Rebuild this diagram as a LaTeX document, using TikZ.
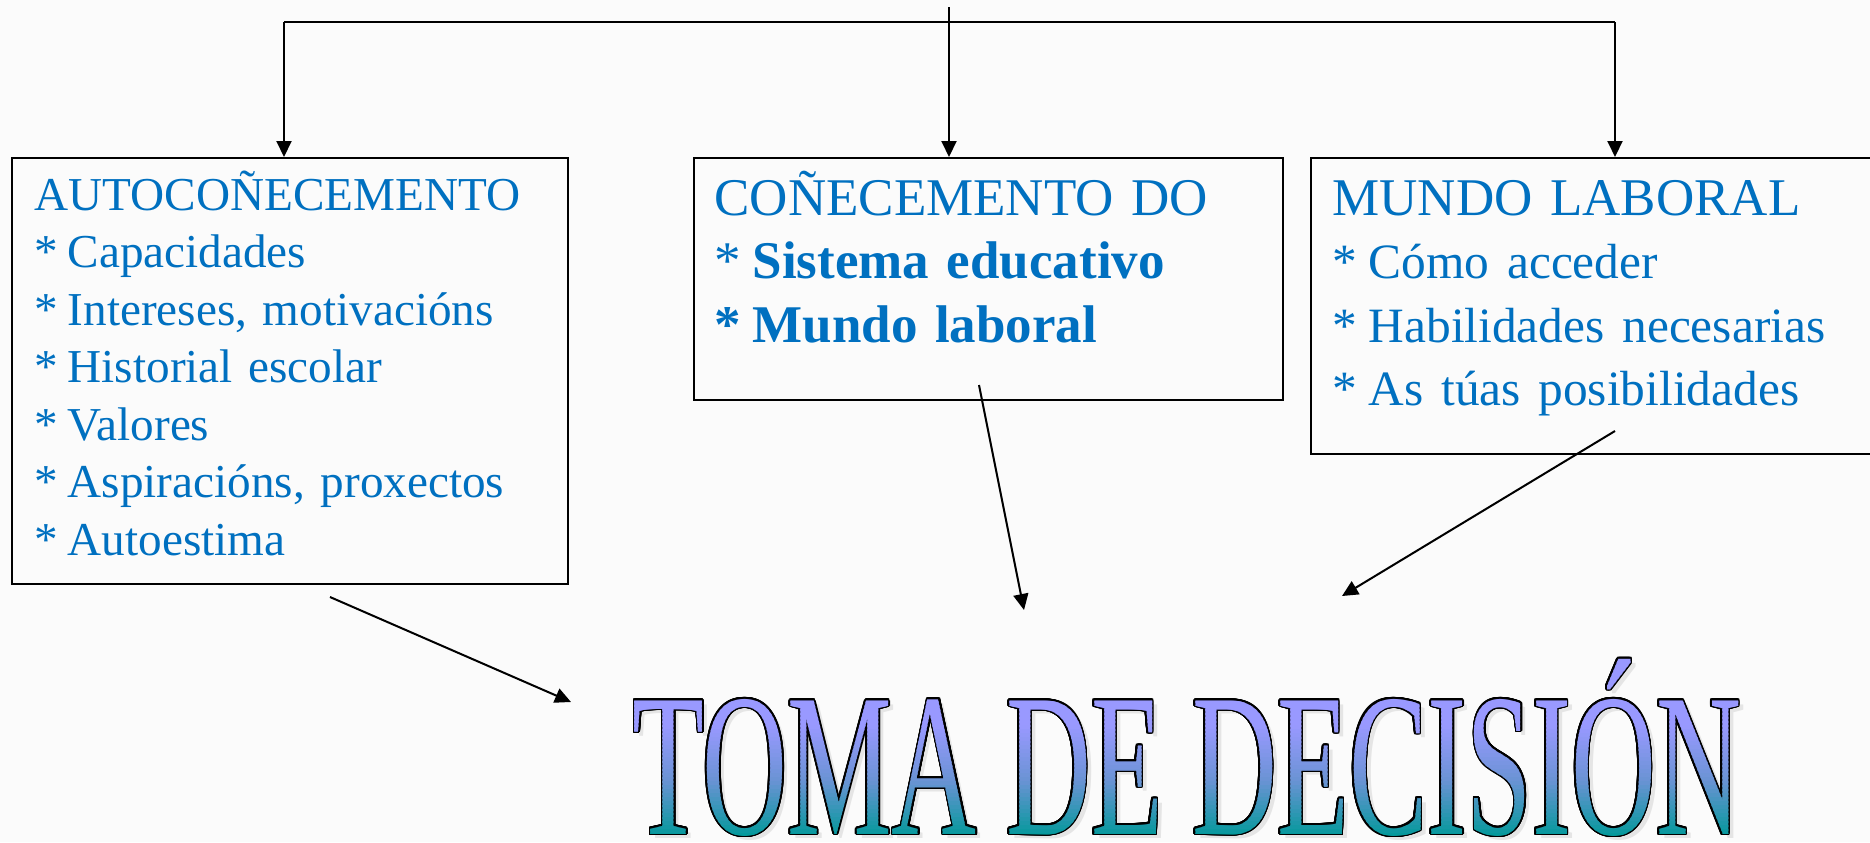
\documentclass[tikz,border=0pt]{standalone}
\usepackage{fontspec}
\setmainfont{Liberation Serif}
\newfontfamily\wordart{Liberation Serif}
\usepackage{graphicx}
\usepackage{contour}
\contourlength{0.8pt}
\contournumber{24}
\usetikzlibrary{arrows.meta,positioning,calc}
\definecolor{textblue}{HTML}{0070C0}
\definecolor{tomatop}{HTML}{9999FF}
\definecolor{tomamid}{HTML}{6A93D4}
\definecolor{tomabot}{HTML}{009999}
\definecolor{paper}{HTML}{FBFBFB}
\newlength{\pu}
\setlength{\pu}{0.5pt}
\newcommand{\tomatext}{\scalebox{5.88}[10.2]{\wordart\fontsize{10pt}{12pt}\selectfont TOMA DE DECISIÓN}}
\newcommand{\itm}{*\kern-3pt\ }

\begin{document}
\begin{tikzpicture}
    [   > = {Triangle[length=8pt,width=7.5pt]},
        line/.style = {line width=1pt},
        box/.style = {draw, line width=1pt, anchor=north west, inner sep=0},
        list/.style = {text=textblue, anchor=base west, inner sep=0, align=left},
        small/.style = {font=\fontsize{23.6pt}{28.75pt}\selectfont},
        large/.style = {font=\fontsize{26.5pt}{31.75pt}\selectfont}
    ]
    % Page
    \useasboundingbox (0\pu,0\pu) rectangle (1870\pu,-842\pu);
    \clip (0\pu,0\pu) rectangle (1870\pu,-842\pu);
    \fill[paper] (0\pu,0\pu) rectangle (1870\pu,-842\pu);
    % Boxes
    \node[box, minimum width=556\pu, minimum height=426\pu] (auto) at (11\pu,-157\pu) {};
    \node[box, minimum width=589\pu, minimum height=242\pu] (conec) at (693\pu,-157\pu) {};
    \node[box, minimum width=620\pu, minimum height=296\pu] (mundo) at (1310\pu,-157\pu) {};
    % Box texts
    \node[list, small, text width=530\pu] (autotxt) at ($(auto.north west)+(23\pu,-53\pu)$)
        {AUTOCOÑECEMENTO\\\itm Capacidades\\\itm Intereses, motivacións\\\itm Historial escolar\\\itm Valores\\\itm Aspiracións, proxectos\\\itm Autoestima};
    \node[list, large, text width=570\pu] (conectxt) at ($(conec.north west)+(21\pu,-58\pu)$)
        {COÑECEMENTO DO\\\itm\textbf{Sistema educativo}\\\textbf{\itm Mundo laboral}};
    \node[list, large, text width=560\pu] (mundotxt) at ($(mundo.north west)+(22\pu,-58\pu)$)
        {MUNDO LABORAL\\\fontsize{24.7pt}{31.75pt}\selectfont
         \itm Cómo acceder\\\itm Habilidades necesarias\\\itm As túas posibilidades};
    % Top connectors
    \coordinate (top) at (949\pu,-7\pu);
    \coordinate (barL) at (284\pu,-22\pu);
    \coordinate (barR) at (1615\pu,-22\pu);
    \draw[line] (barL) -- (barR);
    \draw[line,->] (top) -- (top |- conec.north);
    \draw[line,->] (barL) -- (barL |- auto.north);
    \draw[line,->] (barR) -- (barR |- mundo.north);
    % Arrows to the decision
    \coordinate (autofrom) at (330\pu,-597\pu);
    \coordinate (autotip) at (571\pu,-702\pu);
    \coordinate (conecfrom) at (979\pu,-385\pu);
    \coordinate (conectip) at (1024\pu,-610\pu);
    \coordinate (mundofrom) at (1615\pu,-431\pu);
    \coordinate (mundotip) at (1342\pu,-596\pu);
    \draw[line,->] (autofrom) -- (autotip);
    \draw[line,->] (conecfrom) -- (conectip);
    \draw[line,->] (mundofrom) -- (mundotip);
    % Title: shadow, outline, then the gradient in thin strips
    \node[anchor=base, inner sep=0, text=black!10] (tomashadow) at (1192\pu,-838\pu) {\tomatext};
    \node[anchor=base, inner sep=0] (toma) at (1187\pu,-834\pu) {\contour{black}{\tomatext}};
    \foreach \y in {650,654,...,838}{
        \ifdim\y pt<780pt
            \pgfmathtruncatemacro{\mix}{min(100,max(0,(780-\y)/55*100))}
            \colorlet{stripc}{tomatop!\mix!tomamid}
        \else
            \pgfmathtruncatemacro{\mix}{min(100,max(0,(837-\y)/57*100))}
            \colorlet{stripc}{tomamid!\mix!tomabot}
        \fi
        \begin{scope}
            \clip (600\pu,{-(\y-0.3)*\pu}) rectangle (1800\pu,{-(\y+4.3)*\pu});
            \node[anchor=base, inner sep=0, text=stripc] (tomastrip\y) at (toma.base) {\tomatext};
        \end{scope}
    }
\end{tikzpicture}
\end{document}
